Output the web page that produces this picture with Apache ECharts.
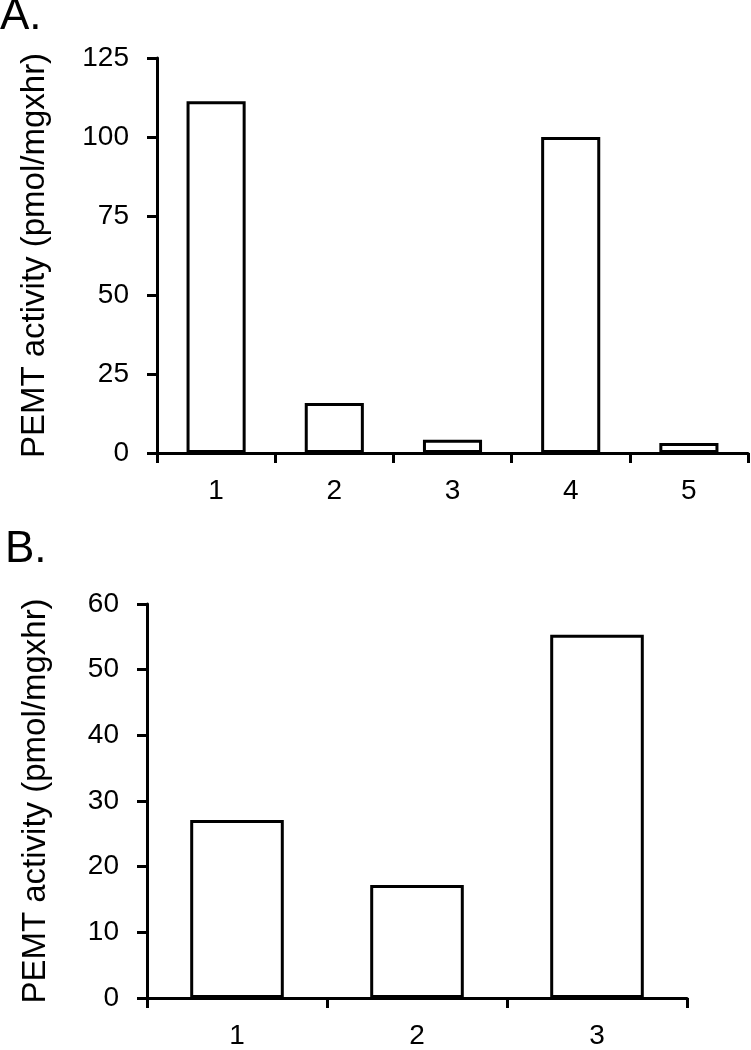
<!DOCTYPE html>
<html>
<head>
<meta charset="utf-8">
<script src="https://cdn.jsdelivr.net/npm/echarts@6/dist/echarts.min.js"></script>
<style>
  html, body { margin: 0; padding: 0; background: #fff; }
  #chart { width: 751px; height: 1050px; }
</style>
</head>
<body>
<div id="chart"></div>
<script>
// panel A
var catsA = ['1', '2', '3', '4', '5'];
var valsA = [111.3, 15.8, 4.2, 100, 3.2];
// panel B
var catsB = ['1', '2', '3'];
var valsB = [27.1, 17.2, 55.3];

var yName = 'PEMT activity (pmol/mgxhr)';
var font = 'Liberation Sans, Arial, sans-serif';

(function () {
    var myChart = echarts.init(document.getElementById('chart'));

    function xAxisFor(idx, cats) {
        return {
            type: 'category',
            gridIndex: idx,
            data: cats,
            boundaryGap: true,
            axisLine: { lineStyle: { color: '#000', width: 3 } },
            axisTick: { show: true, length: 10, lineStyle: { color: '#000', width: 3 } },
            axisLabel: { color: '#000', fontSize: 28, fontFamily: font, margin: 24 }
        };
    }

    function yAxisFor(idx, max, step, gap) {
        return {
            type: 'value',
            gridIndex: idx,
            min: 0,
            max: max,
            interval: step,
            name: yName,
            nameLocation: 'middle',
            nameGap: gap,
            nameTextStyle: { color: '#000', fontSize: 33, fontFamily: font },
            axisLine: { show: true, lineStyle: { color: '#000', width: 3 } },
            axisTick: { show: true, length: 10, lineStyle: { color: '#000', width: 3 } },
            axisLabel: { color: '#000', fontSize: 28, fontFamily: font, margin: 28 },
            splitLine: { show: false }
        };
    }

    var barStyle = {
        color: '#fff',
        borderColor: '#000',
        borderWidth: 3
    };

    var panelTitle = { color: '#000', fontSize: 44, fontWeight: 'normal', fontFamily: font };

    var option = {
        animation: false,
        backgroundColor: '#fff',
        title: [
            { text: 'A.', left: 0, top: -5, padding: 0, textStyle: panelTitle },
            { text: 'B.', left: 5, top: 528, padding: 0, textStyle: panelTitle }
        ],
        grid: [
            { left: 157, top: 58, width: 591, height: 395 },
            { left: 147, top: 604, width: 540, height: 394 }
        ],
        xAxis: [xAxisFor(0, catsA), xAxisFor(1, catsB)],
        yAxis: [yAxisFor(0, 125, 25, 106), yAxisFor(1, 60, 10, 95)],
        series: [
            {
                type: 'bar',
                xAxisIndex: 0,
                yAxisIndex: 0,
                data: valsA,
                barWidth: '50%',
                itemStyle: barStyle
            },
            {
                type: 'bar',
                xAxisIndex: 1,
                yAxisIndex: 1,
                data: valsB,
                barWidth: '52%',
                itemStyle: barStyle
            }
        ]
    };
    myChart.setOption(option);
    window.addEventListener('resize', function () {
        myChart.resize();
    });
})();
</script>
</body>
</html>
